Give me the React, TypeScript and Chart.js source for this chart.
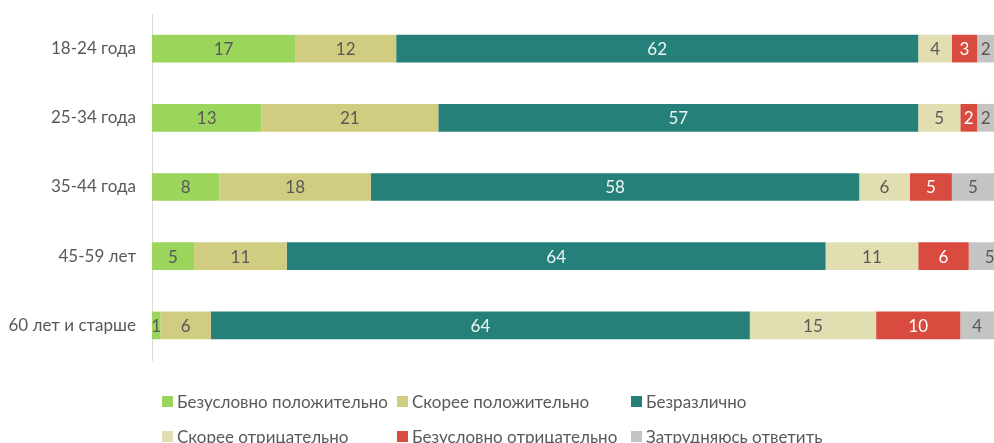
import React, { useEffect, useRef } from 'react';
import { Chart, registerables } from 'chart.js';

Chart.register(...registerables);

const categories = ['18-24 года', '25-34 года', '35-44 года', '45-59 лет', '60 лет и старше'];
const seriesNames = [
  'Безусловно положительно',
  'Скорее положительно',
  'Безразлично',
  'Скорее отрицательно',
  'Безусловно отрицательно',
  'Затрудняюсь ответить',
];
const definitelyPositive = [17, 13, 8, 5, 1];
const ratherPositive = [12, 21, 18, 11, 6];
const indifferent = [62, 57, 58, 64, 64];
const ratherNegative = [4, 5, 6, 11, 15];
const definitelyNegative = [3, 2, 5, 6, 10];
const hardToSay = [2, 2, 5, 5, 4];

const seriesValues = [definitelyPositive, ratherPositive, indifferent, ratherNegative, definitelyNegative, hardToSay];
const seriesColors = ['#9BD55C', '#D0CD80', '#26807A', '#E1DFB2', '#D94B3E', '#C4C4C4'];
const labelColors = ['#595959', '#595959', '#EEF4F3', '#595959', '#FFFFFF', '#595959'];

const FONT = 'Lato, "Open Sans", "Noto Sans", sans-serif';
const FONT_SIZE = 17;

const legendRows = [
  [0, 1, 2],
  [3, 4, 5],
];
const legendColumns = [162, 397, 631];
const legendRowY = [390, 425];

const valueLabels = {
  id: 'valueLabels',
  afterDatasetsDraw(chart: any) {
    const { ctx, chartArea } = chart;
    ctx.save();
    ctx.beginPath();
    ctx.rect(chartArea.left, chartArea.top, chartArea.right - chartArea.left, chartArea.bottom - chartArea.top);
    ctx.clip();
    ctx.font = `${FONT_SIZE}px ${FONT}`;
    ctx.textAlign = 'center';
    ctx.textBaseline = 'middle';
    chart.data.datasets.forEach((ds: any, i: number) => {
      const meta = chart.getDatasetMeta(i);
      meta.data.forEach((el: any, j: number) => {
        const { x, base, y } = el.getProps(['x', 'base', 'y'], true);
        ctx.fillStyle = labelColors[i];
        ctx.fillText(String(ds.data[j]), (x + base) / 2, y + 1);
      });
    });
    ctx.restore();
  },
};

export default function App() {
  const canvasRef = useRef<HTMLCanvasElement | null>(null);

  useEffect(() => {
    if (!canvasRef.current) return;
    const chart = new Chart(canvasRef.current, {
      type: 'bar',
      data: {
        labels: categories,
        datasets: seriesNames.map((name, i) => ({
          label: name,
          data: seriesValues[i],
          backgroundColor: seriesColors[i],
          borderWidth: 0,
          categoryPercentage: 1,
          barPercentage: 0.4,
        })),
      },
      options: {
        indexAxis: 'y',
        animation: false,
        responsive: false,
        maintainAspectRatio: false,
        layout: { padding: { top: 14, bottom: 83, right: 0, left: 0 } },
        plugins: {
          legend: { display: false },
          tooltip: { enabled: false },
        },
        scales: {
          x: {
            stacked: true,
            min: 0,
            max: 100,
            display: false,
          },
          y: {
            stacked: true,
            grid: { display: false, drawTicks: false },
            border: { display: true, color: '#D9D9D9', width: 1 },
            ticks: {
              padding: 16,
              color: '#595959',
              font: { family: FONT, size: FONT_SIZE },
            },
            afterFit(scale: any) {
              scale.width = 152;
              scale.paddingTop = 0;
              scale.paddingBottom = 0;
            },
          },
        },
      },
      plugins: [valueLabels],
    });
    return () => chart.destroy();
  }, []);

  return (
    <div style={{ position: 'fixed', left: 0, top: 0, width: 994, height: 443, background: '#fff', overflow: 'hidden' }}>
      <canvas ref={canvasRef} width={994} height={443} style={{ position: 'absolute', left: 0, top: 0 }} />
      {legendRows.map((row, r) =>
        row.map((s, c) => (
          <div
            key={s}
            style={{
              position: 'absolute',
              left: legendColumns[c],
              top: legendRowY[r],
              height: 22,
              display: 'flex',
              alignItems: 'center',
              whiteSpace: 'nowrap',
              fontFamily: FONT,
              fontSize: FONT_SIZE,
              color: '#595959',
            }}
          >
            <span style={{ display: 'inline-block', width: 11, height: 11, background: seriesColors[s], marginRight: 4 }} />
            <span>{seriesNames[s]}</span>
          </div>
        ))
      )}
    </div>
  );
}
